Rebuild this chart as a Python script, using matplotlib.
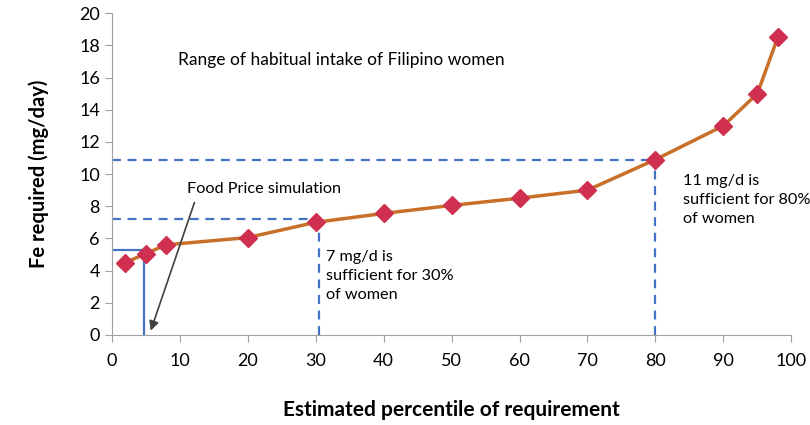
import matplotlib.pyplot as plt

# percentile vs Fe requirement
percentile = [2, 5, 8, 20, 30, 40, 50, 60, 70, 80, 90, 95, 98]
fe_required = [4.5, 5.05, 5.6, 6.05, 7.0, 7.55, 8.05, 8.5, 9.0, 10.9, 13.0, 15.0, 18.5]

# reference lines: (percentile, mg/day)
ref_30 = (30.5, 7.2)
ref_80 = (80, 10.85)
food_price = (4.8, 5.25)

plt.rcParams['font.family'] = ['Lato', 'DejaVu Sans']

fig = plt.figure(figsize=(8.1, 4.25), dpi=100)
ax = fig.add_axes([0.138, 0.212, 0.839, 0.757])

blue = '#4472C4'
for px, py in [ref_30, ref_80]:
    ax.plot([0, px], [py, py], color=blue, linestyle=(0, (4, 3)), linewidth=1.6)
    ax.plot([px, px], [0, py], color=blue, linestyle=(0, (4, 3)), linewidth=1.6)
ax.plot([0, food_price[0]], [food_price[1], food_price[1]], color=blue, linewidth=1.6)
ax.plot([food_price[0], food_price[0]], [0, food_price[1]], color=blue, linewidth=1.6)

ax.plot(percentile, fe_required, color='#C8702A', linewidth=2.5, zorder=3)
ax.plot(percentile, fe_required, linestyle='none', marker='D', markersize=9,
        color='#D03050', zorder=4)

ax.annotate('', xy=(5.6, 0.1), xytext=(12.3, 8.4),
            arrowprops=dict(arrowstyle='-|>', color='#404040', lw=1.2,
                            mutation_scale=14))
ax.text(11, 9.1, 'Food Price simulation', fontsize=11.7, va='center')
ax.text(9.8, 17.1, 'Range of habitual intake of Filipino women', fontsize=12.5, va='center')
ax.text(31.5, 5.3, '7 mg/d is\nsufficient for 30%\nof women', fontsize=11.7,
        va='top', linespacing=1.45)
ax.text(84, 10.0, '11 mg/d is\nsufficient for 80%\nof women', fontsize=11.7,
        va='top', linespacing=1.45)

ax.set_xlim(0, 100)
ax.set_ylim(0, 20)
ax.set_xticks(range(0, 101, 10))
ax.set_yticks(range(0, 21, 2))
ax.spines['top'].set_visible(False)
ax.spines['right'].set_visible(False)
ax.spines['left'].set_color('#A0A0A0')
ax.spines['bottom'].set_color('#A0A0A0')
ax.tick_params(axis='both', labelsize=13, color='#A0A0A0', length=5)
ax.tick_params(axis='x', pad=8)

ax.set_xlabel('Estimated percentile of requirement', fontsize=15,
              fontweight='bold', labelpad=22)
ax.set_ylabel('Fe required (mg/day)', fontsize=14.5, fontweight='bold', labelpad=22)

fig.savefig('out.png', dpi=100)
